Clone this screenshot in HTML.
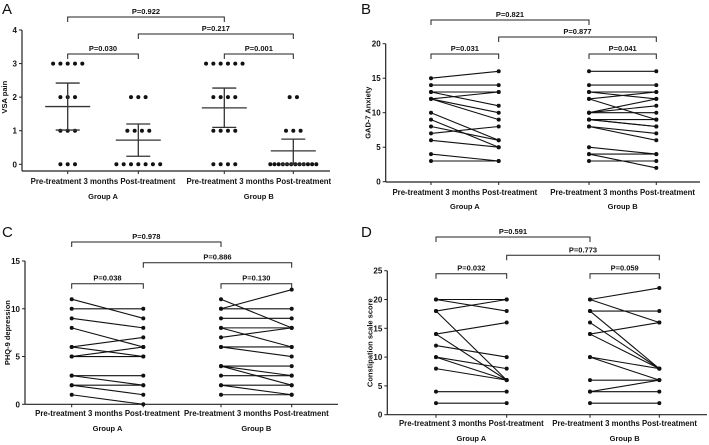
<!DOCTYPE html>
<html><head><meta charset="utf-8"><style>
html,body{margin:0;padding:0;background:#fff;}
svg{display:block;font-family:"Liberation Sans",Arial,sans-serif;}
text{fill:#111;}
</style></head><body>
<svg id="chart" width="709" height="445" viewBox="0 0 709 445" xmlns="http://www.w3.org/2000/svg"></svg>
<script>
// Panel A (VSA pain) — dot counts per level, and mean/SD
const aLevels = [0,1,2,3];
const aCountsPreA = [3,3,3,5];
const aCountsPostA = [7,4,3,0];
const aCountsPreB = [4,4,4,6];
const aCountsPostB = [12,3,2,0];
const aMeans = [1.72,0.72,1.68,0.4];
const aSdHi = [2.42,1.2,2.27,0.75];
const aSdLo = [1.02,0.24,1.1,0];
const aTicks = [0,1,2,3,4];
// Panel B (GAD-7)
const bPreA = [15,14,13,13,12,12,12,10,9,8,7,6,4,3];
const bPostA = [16,14,13,11,13,10,9,6,5,6,8,5,3,3];
const bPreB = [16,14,13,13,12,12,10,10,10,9,9,9,8,8,5,4,4,3];
const bPostB = [16,14,13,12,13,9,12,11,10,9,8,8,7,6,4,4,2,3];
const bTicks = [0,5,10,15,20];
// Panel C (PHQ-9)
const cPreA = [11,10,9,8,6,6,5,5,3,3,2,2,1];
const cPostA = [9,10,8,6,7,5,6,5,3,2,2,1,0];
const cPreB = [11,10,10,9,8,8,7,6,6,4,4,4,3,2,2,1];
const cPostB = [8,12,10,9,8,6,8,6,5,4,3,2,3,2,1,1];
const cTicks = [0,5,10,15];
// Panel D (Constipation)
const dPreA = [20,20,18,18,14,14,12,10,10,8,4,2];
const dPostA = [20,18,20,6,16,6,10,8,6,6,4,2];
const dPreB = [20,20,18,18,16,14,14,10,10,6,4,4,2];
const dPostB = [22,16,18,8,8,16,8,6,8,6,6,4,2];
const dTicks = [0,5,10,15,20,25];
const pLabels = {
  A:["P=0.922","P=0.217","P=0.030","P=0.001"],
  B:["P=0.821","P=0.877","P=0.031","P=0.041"],
  C:["P=0.978","P=0.886","P=0.038","P=0.130"],
  D:["P=0.591","P=0.773","P=0.032","P=0.059"]};
const yTitles = {A:"VSA pain",B:"GAD-7 Anxiety",C:"PHQ-9 depression",D:"Constipation scale score"};

const svg=document.getElementById('chart');
const NS='http://www.w3.org/2000/svg';
function mk(tag,attrs,parent,name){const e=document.createElementNS(NS,tag);for(const k in attrs)e.setAttribute(k,attrs[k]);


(parent||svg).appendChild(e);return e;}
function txt(x,y,s,size,anchor,parent,name,weight){const t=mk('text',{x:x,y:y,'font-size':size,'text-anchor':anchor||'middle','font-weight':weight||'bold'},parent,name);t.textContent=s;return t;}

function panel(key,cfg,ticks,max){
  const g=mk('g',{},svg,'panel-'+key.toLowerCase());
  const Y=v=>cfg.y0-(v/max)*(cfg.y0-cfg.yTop);
  txt(cfg.letterX,cfg.letterY,key,15,'start',g,'panel-label-'+key.toLowerCase(),'normal');
  mk('line',{x1:cfg.ax,y1:Y(max),x2:cfg.ax,y2:cfg.axB,stroke:'#222','stroke-width':1.2},g,'y-axis');
  mk('line',{x1:cfg.ax,y1:cfg.axB,x2:cfg.axR,y2:cfg.axB,stroke:'#222','stroke-width':1.2},g,'x-axis');
  ticks.forEach(t=>{mk('line',{x1:cfg.ax-3,y1:Y(t),x2:cfg.ax,y2:Y(t),stroke:'#222','stroke-width':1},g,'y-tick');
    txt(cfg.ax-5,Y(t)+3,String(t),8,'end',g,'y-tick-label');});
  cfg.cx.forEach(x=>mk('line',{x1:x,y1:cfg.axB,x2:x,y2:cfg.axB+3,stroke:'#222','stroke-width':1},g,'x-tick'));
  const tl=txt(0,0,yTitles[key],7.5,'middle',g,'y-axis-title');
  const mid=(Y(0)+Y(max))/2;tl.setAttribute('transform','translate('+(cfg.ax-15)+','+mid+') rotate(-90)');
  for(let i=0;i<2;i++){
    const c=(cfg.cx[2*i]+cfg.cx[2*i+1])/2;
    txt(c,cfg.tickY,'Pre-treatment 3 months Post-treatment',7.8,'middle',g,'x-category-label');
    txt(c,cfg.groupY,i?'Group B':'Group A',7.5,'middle',g,'group-label');
  }
  const br=[[0,2,cfg.b1],[1,3,cfg.b2],[0,1,cfg.b3],[2,3,cfg.b3]];
  br.forEach((b,i)=>{const x1=cfg.cx[b[0]],x2=cfg.cx[b[1]],y=b[2];
    mk('path',{d:'M'+x1+' '+(y+5)+'V'+y+'H'+x2+'V'+(y+5),fill:'none',stroke:'#222','stroke-width':1},g,'significance-bracket');
    txt((x1+x2)/2,y-3,pLabels[key][i],7.5,'middle',g,'p-value-label');});
  return {g,Y};
}
function pairs(p,cfg,pre,post,xi,name){
  pre.forEach((v,i)=>{const x1=cfg.cx[xi],x2=cfg.cx[xi+1];
    mk('line',{x1:x1,y1:p.Y(v),x2:x2,y2:p.Y(post[i]),stroke:'#111','stroke-width':1.1},p.g,name+'-line');
    mk('circle',{cx:x1,cy:p.Y(v),r:2,fill:'#111'},p.g,name+'-pre-point');
    mk('circle',{cx:x2,cy:p.Y(post[i]),r:2,fill:'#111'},p.g,name+'-post-point');});
}

const cfgA={ax:22,axR:330,axB:171,y0:164.3,yTop:30,cx:[67.7,138.3,224.3,293.3],b1:17,b2:34,b3:54,tickY:184,groupY:199,letterX:2,letterY:14};
const pA=panel('A',cfgA,aTicks,4);
[aCountsPreA,aCountsPostA,aCountsPreB,aCountsPostB].forEach((counts,ci)=>{
  const x=cfgA.cx[ci];
  counts.forEach((n,li)=>{const sp=n>1?Math.min(7.3,46/(n-1)):0;
    for(let k=0;k<n;k++){const dx=(k-(n-1)/2)*sp;
    mk('circle',{cx:x+dx,cy:pA.Y(aLevels[li]),r:2,fill:'#111'},pA.g,'vsa-point');}});
  mk('line',{x1:x-22.5,y1:pA.Y(aMeans[ci]),x2:x+22.5,y2:pA.Y(aMeans[ci]),stroke:'#333','stroke-width':1.3},pA.g,'mean-line');
  mk('line',{x1:x,y1:pA.Y(aSdHi[ci]),x2:x,y2:pA.Y(aSdLo[ci]),stroke:'#333','stroke-width':1.3},pA.g,'sd-bar');
  mk('line',{x1:x-12,y1:pA.Y(aSdHi[ci]),x2:x+12,y2:pA.Y(aSdHi[ci]),stroke:'#333','stroke-width':1.3},pA.g,'sd-cap');
  mk('line',{x1:x-12,y1:pA.Y(aSdLo[ci]),x2:x+12,y2:pA.Y(aSdLo[ci]),stroke:'#333','stroke-width':1.3},pA.g,'sd-cap');
});
const cfgB={ax:385.7,axR:700,axB:182,y0:181.7,yTop:43.7,cx:[431,498.7,589,656.3],b1:20,b2:37,b3:54,tickY:195,groupY:209,letterX:361,letterY:14};
const pB=panel('B',cfgB,bTicks,20);
pairs(pB,cfgB,bPreA,bPostA,0,'gad7-group-a');pairs(pB,cfgB,bPreB,bPostB,2,'gad7-group-b');
const cfgC={ax:25,axR:338,axB:404.3,y0:404.3,yTop:261,cx:[71.7,143.3,221,291.7],b1:242,b2:262.7,b3:283.7,tickY:416,groupY:431,letterX:2,letterY:237};
const pC=panel('C',cfgC,cTicks,15);
pairs(pC,cfgC,cPreA,cPostA,0,'phq9-group-a');pairs(pC,cfgC,cPreB,cPostB,2,'phq9-group-b');
const cfgD={ax:387.3,axR:707,axB:414.7,y0:414.7,yTop:270.7,cx:[436,506.7,590,659.3],b1:237,b2:255.3,b3:273.7,tickY:426,groupY:441,letterX:361,letterY:237};
const pD=panel('D',cfgD,dTicks,25);
pairs(pD,cfgD,dPreA,dPostA,0,'constipation-group-a');pairs(pD,cfgD,dPreB,dPostB,2,'constipation-group-b');
</script>
</body></html>
